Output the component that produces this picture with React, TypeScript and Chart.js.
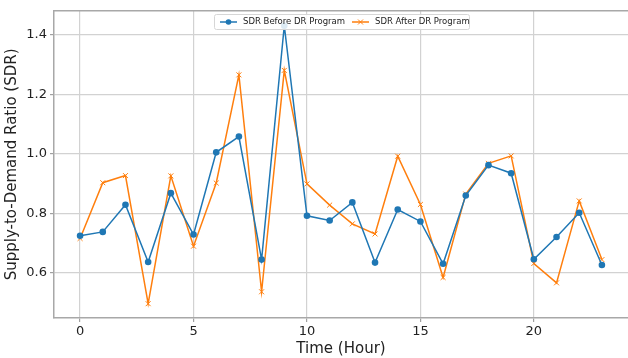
import React, { useEffect, useRef } from "react";
import { Chart, registerables } from "chart.js";

Chart.register(...registerables);

const hours = [0,1,2,3,4,5,6,7,8,9,10,11,12,13,14,15,16,17,18,19,20,21,22,23];
const sdrBefore = [0.725,0.738,0.829,0.637,0.868,0.729,1.005,1.058,0.645,1.43,0.792,0.776,0.837,0.635,0.813,0.773,0.631,0.86,0.962,0.935,0.646,0.721,0.802,0.627];
const sdrAfter = [0.716,0.903,0.927,0.497,0.926,0.69,0.902,1.265,0.537,1.28,0.899,0.828,0.765,0.731,0.992,0.83,0.585,0.865,0.968,0.993,0.632,0.567,0.842,0.645];
const yTicks = [0.6, 0.8, 1.0, 1.2, 1.4];
const xTicks = [0, 5, 10, 15, 20];
const seriesLabels = ["SDR Before DR Program", "SDR After DR Program"];
const BLUE = "#1f77b4";
const ORANGE = "#ff7f0e";
const FONT = "'DejaVu Sans', sans-serif";

const framePlugin = {
  id: "topFrame",
  afterDatasetsDraw(chart: any) {
    const { ctx, chartArea } = chart;
    ctx.save();
    ctx.strokeStyle = "#a8a8a8";
    ctx.lineWidth = 1.5;
    ctx.beginPath();
    ctx.moveTo(chartArea.left, chartArea.top);
    ctx.lineTo(chartArea.right, chartArea.top);
    ctx.stroke();
    ctx.restore();
  },
};

const legendPlugin = {
  id: "boxLegend",
  afterDraw(chart: any) {
    const ctx = chart.ctx;
    ctx.save();
    const x0 = 214, y0 = 14, w = 255, h = 15;
    ctx.fillStyle = "rgba(255,255,255,0.85)";
    ctx.strokeStyle = "#d6d6d6";
    ctx.lineWidth = 1;
    ctx.beginPath();
    (ctx as any).roundRect ? (ctx as any).roundRect(x0 + 0.5, y0 + 0.5, w, h, 2) : ctx.rect(x0 + 0.5, y0 + 0.5, w, h);
    ctx.fill();
    ctx.stroke();
    ctx.font = "8.5px " + FONT;
    ctx.textBaseline = "middle";
    const cy = y0 + h / 2 + 0.5;
    const items = [
      { x: 220, color: BLUE, style: "circle", label: seriesLabels[0] },
      { x: 352, color: ORANGE, style: "cross", label: seriesLabels[1] },
    ];
    for (const it of items) {
      ctx.strokeStyle = it.color;
      ctx.lineWidth = 1.5;
      ctx.beginPath();
      ctx.moveTo(it.x, cy);
      ctx.lineTo(it.x + 17, cy);
      ctx.stroke();
      const mx = it.x + 8.5;
      if (it.style === "circle") {
        ctx.fillStyle = it.color;
        ctx.beginPath();
        ctx.arc(mx, cy, 2.8, 0, Math.PI * 2);
        ctx.fill();
      } else {
        ctx.lineWidth = 1;
        ctx.beginPath();
        ctx.moveTo(mx - 2.5, cy - 2.5);
        ctx.lineTo(mx + 2.5, cy + 2.5);
        ctx.moveTo(mx + 2.5, cy - 2.5);
        ctx.lineTo(mx - 2.5, cy + 2.5);
        ctx.stroke();
      }
      ctx.fillStyle = "#222";
      ctx.fillText(it.label, it.x + 23, cy);
    }
    ctx.restore();
  },
};

export default function App() {
  const ref = useRef<HTMLCanvasElement | null>(null);
  useEffect(() => {
    if (!ref.current) return;
    const chart = new Chart(ref.current, {
      type: "line",
      data: {
        datasets: [
          {
            label: seriesLabels[0],
            data: hours.map((h, i) => ({ x: h, y: sdrBefore[i] })),
            borderColor: BLUE,
            backgroundColor: BLUE,
            borderWidth: 1.5,
            pointStyle: "circle",
            pointRadius: 3.3,
            pointBorderWidth: 0,
            tension: 0,
          },
          {
            label: seriesLabels[1],
            data: hours.map((h, i) => ({ x: h, y: sdrAfter[i] })),
            borderColor: ORANGE,
            backgroundColor: ORANGE,
            borderWidth: 1.5,
            pointStyle: "crossRot",
            pointRadius: 3.5,
            pointBorderWidth: 1,
            tension: 0,
          },
        ],
      },
      options: {
        responsive: false,
        animation: false,
        layout: { padding: { left: 0, right: 0, top: 9, bottom: 0 } },
        plugins: { legend: { display: false }, tooltip: { enabled: false } },
        scales: {
          x: {
            type: "linear",
            min: -1.15,
            max: 24.15,
            afterBuildTicks: (s: any) => { s.ticks = xTicks.map((v) => ({ value: v })); },
            afterFit: (s: any) => { s.height = 40; },
            ticks: { color: "#222", font: { family: FONT, size: 13 }, padding: 2 },
            grid: { color: "#d2d2d2", lineWidth: 1.2, drawTicks: true, tickLength: 4, tickColor: "#a0a0a0" },
            border: { color: "#a8a8a8", width: 1.5 },
            title: { display: true, text: "Time (Hour)", color: "#222", font: { family: FONT, size: 15 }, padding: { top: 0, bottom: 0 } },
          },
          y: {
            type: "linear",
            min: 0.449,
            max: 1.48,
            afterBuildTicks: (s: any) => { s.ticks = yTicks.map((v) => ({ value: v })); },
            afterFit: (s: any) => { s.width = 54; },
            ticks: { color: "#222", font: { family: FONT, size: 13 }, padding: 3, callback: (v: any) => Number(v).toFixed(1) },
            grid: { color: "#d2d2d2", lineWidth: 1.2, drawTicks: true, tickLength: 4, tickColor: "#a0a0a0" },
            border: { color: "#a8a8a8", width: 1.5 },
            title: { display: true, text: "Supply-to-Demand Ratio (SDR)", color: "#222", font: { family: FONT, size: 15 }, padding: { top: 3, bottom: 0 } },
          },
        },
      },
      plugins: [framePlugin, legendPlugin],
    } as any);
    return () => chart.destroy();
  }, []);
  return (
    <div style={{ position: "fixed", left: 0, top: 0, width: 628, height: 358, overflow: "hidden", background: "#fff" }}>
      <canvas ref={ref} width={633} height={358} style={{ display: "block" }} />
    </div>
  );
}
